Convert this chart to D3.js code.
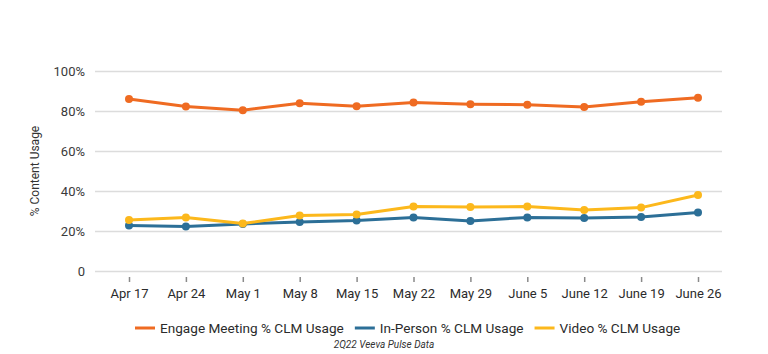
<!DOCTYPE html>
<html>
<head>
<meta charset="utf-8">
<script src="https://cdn.jsdelivr.net/npm/d3@7"></script>
<style>
  body { margin: 0; background: #fff; }
  text { font-family: Roboto, "Noto Sans", sans-serif; }
</style>
</head>
<body>
<div id="chart"></div>
<script>
const weeks = ['Apr 17', 'Apr 24', 'May 1', 'May 8', 'May 15', 'May 22', 'May 29', 'June 5', 'June 12', 'June 19', 'June 26'];
const engageMeeting = [86, 82.2, 80.4, 83.9, 82.4, 84.3, 83.4, 83.1, 82.0, 84.6, 86.6];
const inPerson = [22.8, 22.2, 23.5, 24.5, 25.2, 26.8, 25.0, 26.8, 26.5, 27.0, 29.3];
const video = [25.5, 26.7, 23.7, 27.8, 28.3, 32.3, 32.0, 32.2, 30.5, 31.7, 38.0];
const yTicks = [0, 20, 40, 60, 80, 100];

const series = [
  { name: 'Engage Meeting % CLM Usage', values: engageMeeting, color: '#ef6b22' },
  { name: 'In-Person % CLM Usage', values: inPerson, color: '#2c6f97' },
  { name: 'Video % CLM Usage', values: video, color: '#fcb81c' }
];

const width = 768, height = 354;
const gridLeft = 95, gridRight = 722;

const svg = d3.select('#chart')
  .append('svg')
  .attr('width', width)
  .attr('height', height);

// scales
const xScale = d3.scalePoint().domain(weeks).range([129, 698]);
const yScale = d3.scaleLinear().domain([0, 100]).range([271, 71]);

// gridlines + y labels
const yAxis = svg.append('g')
  .attr('transform', 'translate(' + gridRight + ',0)')
  .call(d3.axisLeft(yScale)
    .tickValues(yTicks)
    .tickSize(gridRight - gridLeft)
    .tickPadding(10)
    .tickFormat(d => d === 0 ? '0' : d + '%'));
yAxis.select('.domain').remove();
yAxis.selectAll('line').attr('stroke', '#dcdcdc').attr('stroke-width', 1.5);
yAxis.selectAll('text')
  .attr('fill', '#3a3a3a')
  .attr('font-size', '13px');

// x axis ticks + labels
const xAxis = svg.append('g')
  .attr('transform', 'translate(0,277)')
  .call(d3.axisBottom(xScale).tickSize(5).tickPadding(7));
xAxis.select('.domain').remove();
xAxis.selectAll('line').attr('stroke', '#8a8a8a').attr('stroke-width', 1.5);
xAxis.selectAll('text')
  .attr('fill', '#2b2b2b')
  .attr('font-size', '13px');

// y title
svg.append('text')
  .attr('transform', 'translate(39,171) rotate(-90)')
  .attr('text-anchor', 'middle')
  .attr('font-size', '12px')
  .attr('fill', '#333')
  .text('% Content Usage');

// lines
const line = d3.line()
  .x((d, i) => xScale(weeks[i]))
  .y(d => yScale(d));

series.forEach(s => {
  svg.append('path')
    .datum(s.values)
    .attr('fill', 'none')
    .attr('stroke', s.color)
    .attr('stroke-width', 3)
    .attr('stroke-linejoin', 'round')
    .attr('d', line);

  svg.selectAll(null)
    .data(s.values)
    .enter()
    .append('circle')
    .attr('cx', (d, i) => xScale(weeks[i]))
    .attr('cy', d => yScale(d))
    .attr('r', 4)
    .attr('fill', s.color);
});

// legend
const legend = svg.append('g').attr('transform', 'translate(0,328)');
let lx = 135;
series.forEach(s => {
  legend.append('line')
    .attr('x1', lx).attr('x2', lx + 20)
    .attr('y1', 0).attr('y2', 0)
    .attr('stroke', s.color)
    .attr('stroke-width', 3);
  const t = legend.append('text')
    .attr('x', lx + 25)
    .attr('y', 5)
    .attr('font-size', '13.6px')
    .attr('fill', '#2b2b2b')
    .text(s.name);
  lx += 25 + t.node().getComputedTextLength() + 11;
});

// caption
svg.append('text')
  .attr('x', 384)
  .attr('y', 348)
  .attr('text-anchor', 'middle')
  .attr('font-size', '10px')
  .attr('font-style', 'italic')
  .attr('fill', '#333')
  .text('2Q22 Veeva Pulse Data');
</script>
</body>
</html>
